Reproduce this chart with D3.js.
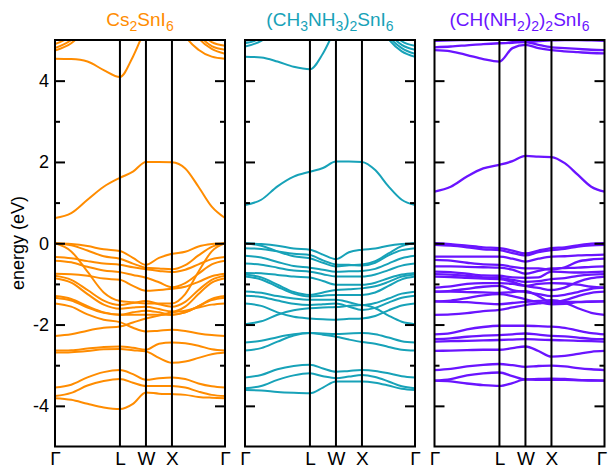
<!DOCTYPE html>
<html><head><meta charset="utf-8">
<script src="https://cdn.jsdelivr.net/npm/d3@7"></script>
<style>
body{margin:0;background:#fff}
text{font-family:"Liberation Sans",Arial,Helvetica,sans-serif}
</style>
</head><body><svg id="c" width="608" height="468"></svg>
<script>
// k-path sample positions (fraction of path length)
// Γ, q, mid, q, L, mid, W, mid, X, q, mid, q, Γ
const kPoints = [0, 0.0955, 0.191, 0.2865, 0.382, 0.4585, 0.535, 0.6115, 0.688, 0.766, 0.844, 0.922, 1];
const kTickPos = [0, 0.382, 0.535, 0.688, 1];
const kTickLabels = ["Γ", "L", "W", "X", "Γ"];
const yMajorTicks = [-4, -2, 0, 2, 4];
const yMinorTicks = [-3, -1, 1, 3];
const yLabel = "energy (eV)";

const panelTitles = [
  [["Cs", 0], ["2", 1], ["SnI", 0], ["6", 1]],
  [["(CH", 0], ["3", 1], ["NH", 0], ["3", 1], [")", 0], ["2", 1], ["SnI", 0], ["6", 1]],
  [["(CH(NH", 0], ["2", 1], [")", 0], ["2", 1], [")", 0], ["2", 1], ["SnI", 0], ["6", 1]]
];
const panelColors = ["#ff8c00", "#17a2b8", "#6a14ff"];

// band energies (eV) at kPoints
const csBands = [
  [0.62, 0.74, 1.07, 1.39, 1.61, 1.76, 2.00, 2.00, 1.99, 1.84, 1.39, 0.90, 0.62],
  [4.54, 4.53, 4.47, 4.26, 4.09, 4.59, 5.30, 5.80, 5.80, 5.10, 4.76, 4.59, 4.54],
  [4.74, 4.92, 5.30, 5.70, 5.80, 5.80, 5.80, 5.80, 5.80, 5.60, 5.05, 4.78, 4.66],
  [4.80, 5.00, 5.40, 5.80, 5.80, 5.80, 5.80, 5.80, 5.80, 5.70, 5.15, 4.85, 4.76],
  [4.90, 5.10, 5.50, 5.80, 5.80, 5.80, 5.80, 5.80, 5.80, 5.80, 5.25, 4.95, 4.86],
  [0.00, -0.02, -0.07, -0.15, -0.19, -0.36, -0.53, -0.36, -0.26, -0.21, -0.08, -0.02, 0.00],
  [0.00, -0.05, -0.18, -0.32, -0.38, -0.50, -0.60, -0.62, -0.64, -0.54, -0.30, -0.09, 0.00],
  [0.00, -0.20, -0.70, -1.21, -1.42, -1.45, -1.48, -1.48, -1.48, -1.25, -0.70, -0.20, 0.00],
  [-0.34, -0.37, -0.44, -0.50, -0.53, -0.59, -0.64, -0.68, -0.71, -0.65, -0.52, -0.39, -0.34],
  [-0.43, -0.47, -0.58, -0.67, -0.71, -0.78, -0.85, -0.96, -1.08, -0.98, -0.75, -0.52, -0.43],
  [-0.75, -0.76, -0.80, -0.87, -0.90, -1.05, -1.17, -1.15, -1.12, -1.07, -0.95, -0.81, -0.75],
  [-0.80, -0.90, -1.15, -1.41, -1.52, -1.47, -1.42, -1.50, -1.56, -1.44, -1.15, -0.90, -0.80],
  [-0.86, -0.97, -1.25, -1.51, -1.61, -1.58, -1.56, -1.62, -1.68, -1.56, -1.25, -0.97, -0.86],
  [-1.30, -1.37, -1.55, -1.70, -1.76, -1.70, -1.66, -1.70, -1.76, -1.70, -1.55, -1.37, -1.30],
  [-1.34, -1.41, -1.58, -1.71, -1.76, -1.76, -1.76, -1.76, -1.76, -1.70, -1.55, -1.40, -1.34],
  [-1.48, -1.56, -1.75, -1.88, -1.94, -2.08, -2.17, -2.15, -2.13, -2.16, -2.22, -2.26, -2.28],
  [-2.28, -2.24, -2.15, -2.08, -2.05, -1.95, -1.85, -1.78, -1.70, -1.66, -1.58, -1.51, -1.48],
  [-2.64, -2.63, -2.59, -2.55, -2.54, -2.57, -2.62, -2.47, -2.44, -2.46, -2.52, -2.61, -2.64],
  [-2.69, -2.68, -2.65, -2.61, -2.60, -2.63, -2.66, -2.82, -2.94, -2.91, -2.82, -2.73, -2.69],
  [-3.55, -3.48, -3.30, -3.17, -3.12, -3.22, -3.36, -3.32, -3.30, -3.34, -3.45, -3.52, -3.55],
  [-3.76, -3.68, -3.50, -3.39, -3.34, -3.43, -3.51, -3.51, -3.51, -3.55, -3.65, -3.73, -3.76],
  [-3.81, -3.85, -3.95, -4.04, -4.08, -3.95, -3.67, -3.70, -3.71, -3.73, -3.78, -3.80, -3.81]
];

const maBands = [
  [0.94, 1.07, 1.40, 1.64, 1.76, 1.85, 2.01, 2.01, 2.00, 1.80, 1.40, 1.07, 0.94],
  [4.59, 4.57, 4.47, 4.34, 4.28, 4.67, 5.30, 5.80, 5.80, 5.50, 5.02, 4.72, 4.59],
  [4.84, 4.98, 5.30, 5.70, 5.80, 5.80, 5.80, 5.80, 5.80, 5.70, 5.10, 4.80, 4.66],
  [4.92, 5.05, 5.40, 5.80, 5.80, 5.80, 5.80, 5.80, 5.80, 5.80, 5.20, 4.88, 4.76],
  [4.98, 5.10, 5.45, 5.80, 5.80, 5.80, 5.80, 5.80, 5.80, 5.80, 5.30, 4.97, 4.86],
  [0.00, -0.02, -0.06, -0.13, -0.16, -0.28, -0.39, -0.22, -0.16, -0.13, -0.06, -0.02, 0.00],
  [-0.12, -0.14, -0.20, -0.26, -0.29, -0.42, -0.52, -0.53, -0.55, -0.48, -0.30, -0.17, -0.12],
  [0.00, -0.06, -0.20, -0.32, -0.37, -0.48, -0.57, -0.54, -0.52, -0.44, -0.25, -0.07, 0.00],
  [-0.31, -0.35, -0.46, -0.56, -0.60, -0.65, -0.70, -0.69, -0.68, -0.63, -0.50, -0.37, -0.31],
  [-0.50, -0.53, -0.60, -0.67, -0.70, -0.76, -0.82, -0.82, -0.82, -0.77, -0.66, -0.55, -0.50],
  [-0.73, -0.74, -0.78, -0.82, -0.84, -0.93, -1.02, -1.02, -1.02, -0.97, -0.86, -0.77, -0.73],
  [-0.77, -0.84, -1.02, -1.20, -1.27, -1.21, -1.15, -1.13, -1.11, -1.06, -0.95, -0.82, -0.77],
  [-0.82, -0.89, -1.07, -1.24, -1.31, -1.29, -1.27, -1.27, -1.27, -1.21, -1.05, -0.89, -0.82],
  [-1.19, -1.22, -1.30, -1.36, -1.39, -1.39, -1.39, -1.45, -1.52, -1.47, -1.36, -1.24, -1.19],
  [-1.29, -1.32, -1.41, -1.49, -1.52, -1.50, -1.48, -1.56, -1.64, -1.59, -1.46, -1.34, -1.29],
  [-1.48, -1.54, -1.70, -1.81, -1.85, -1.87, -1.88, -1.86, -1.85, -1.79, -1.65, -1.53, -1.48],
  [-1.99, -1.92, -1.76, -1.65, -1.60, -1.58, -1.57, -1.54, -1.52, -1.60, -1.78, -1.93, -1.99],
  [-2.44, -2.40, -2.31, -2.24, -2.21, -2.22, -2.23, -2.22, -2.21, -2.24, -2.32, -2.41, -2.44],
  [-2.64, -2.58, -2.42, -2.27, -2.21, -2.25, -2.30, -2.37, -2.43, -2.47, -2.55, -2.62, -2.64],
  [-3.30, -3.24, -3.10, -3.02, -2.99, -3.08, -3.16, -3.14, -3.12, -3.14, -3.20, -3.27, -3.30],
  [-3.57, -3.51, -3.36, -3.25, -3.20, -3.27, -3.32, -3.28, -3.24, -3.29, -3.40, -3.52, -3.57],
  [-3.61, -3.62, -3.66, -3.68, -3.69, -3.55, -3.40, -3.40, -3.40, -3.43, -3.50, -3.58, -3.61]
];

const faBands = [
  [1.27, 1.39, 1.64, 1.84, 1.93, 2.02, 2.15, 2.13, 2.12, 1.97, 1.68, 1.39, 1.27],
  [4.75, 4.72, 4.63, 4.53, 4.47, 4.80, 4.88, 4.80, 4.75, 4.72, 4.70, 4.68, 4.67],
  [4.82, 4.84, 4.87, 4.90, 4.92, 4.93, 4.95, 4.88, 4.82, 4.80, 4.78, 4.76, 4.75],
  [4.98, 4.99, 5.00, 5.01, 5.02, 4.98, 4.95, 4.97, 4.99, 5.00, 5.00, 4.99, 4.98],
  [0.00, -0.02, -0.06, -0.10, -0.12, -0.18, -0.25, -0.18, -0.12, -0.10, -0.05, -0.01, 0.00],
  [-0.04, -0.06, -0.10, -0.15, -0.17, -0.24, -0.30, -0.22, -0.17, -0.14, -0.08, -0.05, -0.04],
  [-0.33, -0.33, -0.33, -0.33, -0.33, -0.38, -0.45, -0.38, -0.33, -0.32, -0.30, -0.29, -0.28],
  [-0.41, -0.43, -0.48, -0.52, -0.53, -0.58, -0.62, -0.62, -0.65, -0.59, -0.45, -0.40, -0.38],
  [-0.57, -0.57, -0.58, -0.59, -0.60, -0.65, -0.75, -0.68, -0.62, -0.61, -0.60, -0.58, -0.57],
  [-0.70, -0.71, -0.75, -0.79, -0.80, -0.84, -0.85, -0.84, -0.70, -0.71, -0.72, -0.71, -0.70],
  [-0.76, -0.77, -0.80, -0.84, -0.85, -0.90, -0.95, -0.93, -0.88, -0.86, -0.80, -0.77, -0.76],
  [-0.82, -0.83, -0.85, -0.87, -0.88, -0.95, -1.05, -1.10, -1.15, -1.09, -0.95, -0.86, -0.82],
  [-1.09, -1.06, -1.00, -0.98, -0.98, -1.00, -1.05, -1.00, -0.98, -0.99, -1.02, -1.07, -1.09],
  [-1.19, -1.17, -1.12, -1.07, -1.05, -1.15, -1.20, -1.25, -1.30, -1.27, -1.20, -1.12, -1.09],
  [-1.19, -1.19, -1.20, -1.21, -1.22, -1.20, -1.18, -1.30, -1.45, -1.40, -1.30, -1.22, -1.19],
  [-1.43, -1.41, -1.35, -1.28, -1.25, -1.30, -1.38, -1.45, -1.50, -1.49, -1.45, -1.44, -1.43],
  [-1.43, -1.44, -1.45, -1.48, -1.50, -1.47, -1.44, -1.42, -1.40, -1.46, -1.60, -1.71, -1.76],
  [-1.76, -1.75, -1.72, -1.67, -1.64, -1.58, -1.52, -1.48, -1.44, -1.44, -1.44, -1.43, -1.43],
  [-2.24, -2.21, -2.12, -2.06, -2.03, -2.03, -2.03, -2.04, -2.05, -2.08, -2.15, -2.21, -2.24],
  [-2.36, -2.34, -2.30, -2.27, -2.26, -2.24, -2.22, -2.25, -2.28, -2.29, -2.32, -2.35, -2.36],
  [-2.42, -2.41, -2.40, -2.39, -2.38, -2.37, -2.36, -2.37, -2.38, -2.39, -2.40, -2.41, -2.42],
  [-2.65, -2.64, -2.63, -2.62, -2.62, -2.58, -2.54, -2.65, -2.79, -2.77, -2.72, -2.67, -2.65],
  [-3.12, -3.09, -3.03, -2.99, -2.97, -3.00, -3.04, -3.02, -3.01, -3.03, -3.07, -3.10, -3.12],
  [-3.38, -3.34, -3.25, -3.20, -3.18, -3.27, -3.35, -3.34, -3.33, -3.34, -3.36, -3.37, -3.38],
  [-3.38, -3.40, -3.45, -3.49, -3.51, -3.44, -3.35, -3.36, -3.36, -3.36, -3.37, -3.38, -3.38]
];

const panelBands = [csBands, maBands, faBands];
const panelLeft = [55, 245, 434.5];
const panelWidth = 170;
const lineWidths = [2, 2, 2.3];

const svg = d3.select("#c");
const y = d3.scaleLinear().domain([-5, 5]).range([446.5, 40]);
const defs = svg.append("defs");

panelBands.forEach((bands, i) => {
  const x0 = panelLeft[i], x1 = x0 + panelWidth;
  const x = d3.scaleLinear().domain([0, 1]).range([x0, x1]);
  const g = svg.append("g");

  defs.append("clipPath").attr("id", "clip" + i).append("rect")
    .attr("x", x0).attr("y", y(5)).attr("width", panelWidth).attr("height", y(-5) - y(5));

  const line = d3.line().x((d, j) => x(kPoints[j])).y(d => y(d)).curve(d3.curveMonotoneX);
  g.append("g").attr("clip-path", `url(#clip${i})`)
    .selectAll("path").data(bands).join("path")
    .attr("d", line).attr("fill", "none")
    .attr("stroke", panelColors[i]).attr("stroke-width", lineWidths[i])
    .attr("stroke-linejoin", "round");

  // high-symmetry vertical lines
  g.selectAll("line.sym").data(kTickPos.slice(1, 4)).join("line")
    .attr("x1", d => x(d)).attr("x2", d => x(d))
    .attr("y1", y(5)).attr("y2", y(-5))
    .attr("stroke", "#000").attr("stroke-width", 2);

  // ticks (inward, both sides)
  const mk = (axisFn, vals, size, pos, labels) => {
    const a = axisFn(y).tickValues(vals).tickSizeInner(-size).tickSizeOuter(0).tickPadding(6)
      .tickFormat(labels ? (d => String(d)) : () => "");
    const ag = g.append("g").attr("transform", `translate(${pos},0)`).call(a);
    ag.select(".domain").remove();
    ag.selectAll(".tick line").attr("stroke", "#000").attr("stroke-width", 2);
    ag.selectAll("text").attr("font-size", 18).attr("fill", "#000")
      .attr("font-family", '"Liberation Sans",Arial,sans-serif');
  };
  mk(d3.axisLeft, yMajorTicks, 10, x0, i === 0);
  mk(d3.axisLeft, yMinorTicks, 5, x0, false);
  mk(d3.axisRight, yMajorTicks, 10, x1, false);
  mk(d3.axisRight, yMinorTicks, 5, x1, false);

  // frame
  g.append("rect").attr("x", x0).attr("y", y(5)).attr("width", panelWidth).attr("height", y(-5) - y(5))
    .attr("fill", "none").attr("stroke", "#000").attr("stroke-width", 2);

  // x labels
  const xa = d3.axisBottom(x).tickValues(kTickPos).tickSize(0).tickPadding(0)
    .tickFormat((d, j) => kTickLabels[j]);
  const xg = g.append("g").attr("transform", `translate(0,${y(-5)})`).call(xa);
  xg.select(".domain").remove();
  xg.selectAll("text").attr("font-size", 19).attr("fill", "#000").attr("dy", null).attr("y", 18)
    .attr("font-family", '"Liberation Sans",Arial,sans-serif');
  if (i === panelBands.length - 1) {
    xg.selectAll("text").filter((d, j) => j === kTickPos.length - 1).attr("x", -3);
  }

  // title
  const t = svg.append("text").attr("x", (x0 + x1) / 2).attr("y", 26)
    .attr("text-anchor", "middle").attr("font-size", 19).attr("fill", panelColors[i]);
  let shifted = false;
  panelTitles[i].forEach(([s, sub]) => {
    const ts = t.append("tspan").text(s);
    if (sub && !shifted) { ts.attr("dy", 5).attr("font-size", 14); shifted = true; }
    else if (sub) { ts.attr("font-size", 14); }
    else if (!sub && shifted) { ts.attr("dy", -5); shifted = false; }
  });
});

svg.append("text").attr("transform", `translate(24,243) rotate(-90)`)
  .attr("text-anchor", "middle").attr("font-size", 18).attr("fill", "#000").text(yLabel);
</script>
</body></html>
